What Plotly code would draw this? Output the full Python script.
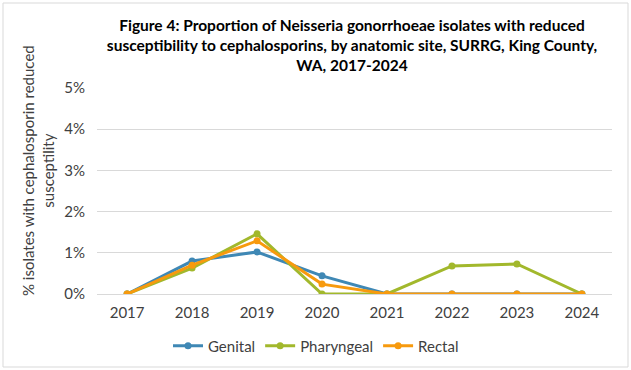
import plotly.graph_objects as go

years = ["2017", "2018", "2019", "2020", "2021", "2022", "2023", "2024"]
genital = [0.0, 0.80, 1.02, 0.44, 0.0, 0.0, 0.0, 0.0]
pharyngeal = [0.0, 0.63, 1.46, 0.0, 0.0, 0.68, 0.73, 0.0]
rectal = [0.0, 0.70, 1.29, 0.24, 0.0, 0.0, 0.0, 0.0]

series = [("Genital", genital, "#3F88B5"),
          ("Pharyngeal", pharyngeal, "#A2B82C"),
          ("Rectal", rectal, "#F79A0E")]

W, H = 631, 370
L, R, T, B = 97, 19, 88, 76
pw, ph = W - L - R, H - T - B

fig = go.Figure()
for name, vals, col in series:
    fig.add_trace(go.Scatter(
        x=years, y=vals, name=name, mode="lines+markers",
        line=dict(color=col, width=3),
        marker=dict(color=col, size=7),
    ))

fnt = "Lato, Open Sans, sans-serif"
fs = 15
fig.update_layout(
    width=W, height=H,
    paper_bgcolor="white", plot_bgcolor="white",
    margin=dict(l=L, r=R, t=T, b=B, autoexpand=False),
    font=dict(family=fnt, size=fs, color="#404040"),
    title=dict(
        text="Figure 4: Proportion of Neisseria gonorrhoeae isolates with reduced<br>"
             "susceptibility to cephalosporins, by anatomic site, SURRG, King County,<br>"
             "WA, 2017-2024",
        x=352 / W, xanchor="center", y=1 - 31 / H, yanchor="top",
        font=dict(family=fnt, size=15.5, color="black", weight="bold"),
    ),
    xaxis=dict(
        type="category", showgrid=False, showline=True, linecolor="#D9D9D9",
        ticks="", tickfont=dict(size=fs, color="#404040"), automargin=False,
        ticklabelstandoff=5,
    ),
    yaxis=dict(
        range=[0, 5], dtick=1, ticksuffix="%", showgrid=True, gridcolor="#D9D9D9",
        zeroline=False, tickfont=dict(size=fs, color="#404040"), automargin=False,
        ticklabelstandoff=11,
    ),
    legend=dict(orientation="h", x=0.5 + (316 - (L + pw / 2)) / pw, xanchor="center",
                y=(294 - 346) / ph, yanchor="middle",
                font=dict(size=fs, color="#404040")),
    annotations=[dict(
        text="% isolates with cephalosporin reduced<br>susceptility",
        xref="paper", yref="paper", x=(38 - L) / pw, y=(294 - 171) / ph,
        xanchor="center", yanchor="middle", textangle=-90, showarrow=False,
        font=dict(size=fs, color="#404040"))],
    shapes=[dict(type="rect", xref="paper", yref="paper",
                 x0=(3 - L) / pw, x1=(628 - L) / pw,
                 y0=(294 - 367) / ph, y1=(294 - 3) / ph,
                 line=dict(color="#D9D9D9", width=1))],
)

fig.write_html("out.html", config={"displayModeBar": False},
               post_script="document.body.style.margin='0';")
